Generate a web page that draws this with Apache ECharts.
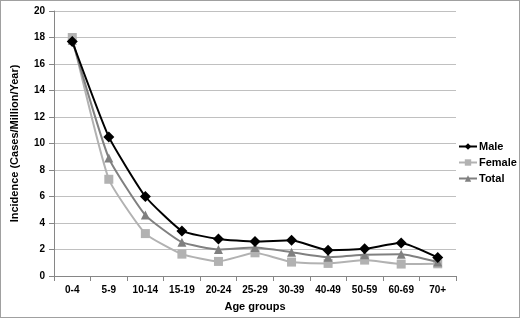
<!DOCTYPE html>
<html><head><meta charset="utf-8">
<script src="https://cdn.jsdelivr.net/npm/echarts@6/dist/echarts.min.js"></script>
<style>html,body{margin:0;padding:0;background:#fff}#c{width:520px;height:318px;box-sizing:border-box;border:1px solid #a0a0a0}</style>
</head><body><div id="c"></div>
<script>
const categories = ['0-4','5-9','10-14','15-19','20-24','25-29','30-39','40-49','50-59','60-69','70+'];
const male = [17.7,10.5,6.0,3.4,2.8,2.6,2.7,1.95,2.05,2.5,1.4];
const female = [18.0,7.3,3.2,1.65,1.1,1.75,1.05,0.95,1.2,0.9,0.92];
const total = [17.8,8.9,4.6,2.55,2.0,2.15,1.8,1.42,1.6,1.65,1.05];
const yTicks = {min:0,max:20,interval:2};

const chart = echarts.init(document.getElementById('c'));
const font = 'Liberation Sans, Arial, sans-serif';
function s(name, data, color, symbol, size){
  return {name, type:'line', data, smooth:0.15, symbol, symbolSize:size,
    lineStyle:{color, width:2}, itemStyle:{color}, z: name==='Male'?5:(name==='Total'?4:3)};
}
chart.setOption({
  animation:false,
  textStyle:{fontFamily:font},
  grid:{left:52,right:63,top:10,bottom:40},
  legend:{orient:'vertical', left:454, top:135, width:70, padding:[5,0,5,3], itemGap:5, itemWidth:18, itemHeight:8,
    textStyle:{fontFamily:font,fontWeight:'bold',fontSize:11,color:'#000',padding:[0,0,0,-3]},
    data:['Male','Female','Total']},
  xAxis:{type:'category', data:categories, boundaryGap:true,
    name:'Age groups', nameLocation:'middle', nameGap:25,
    nameTextStyle:{fontFamily:font,fontWeight:'bold',fontSize:11,color:'#000'},
    axisLine:{lineStyle:{color:'#868686'}}, axisTick:{show:true,length:5,lineStyle:{color:'#868686'}},
    axisLabel:{fontFamily:font,fontWeight:'bold',fontSize:10,color:'#000',margin:9}},
  yAxis:{type:'value', min:yTicks.min, max:yTicks.max, interval:yTicks.interval,
    name:'Incidence (Cases/Million/Year)', nameLocation:'middle', nameGap:34,
    nameTextStyle:{fontFamily:font,fontWeight:'bold',fontSize:11,color:'#000'},
    axisLine:{show:true,lineStyle:{color:'#868686'}}, axisTick:{show:true,length:5,lineStyle:{color:'#868686'}},
    splitLine:{lineStyle:{color:'#c0c0c0'}},
    axisLabel:{fontFamily:font,fontWeight:'bold',fontSize:10,color:'#000',margin:9}},
  series:[
    s('Male', male, '#000000', 'diamond', 11),
    s('Female', female, '#b2b2b2', 'rect', 9),
    s('Total', total, '#808080', 'triangle', 9)
  ]
});
</script></body></html>
